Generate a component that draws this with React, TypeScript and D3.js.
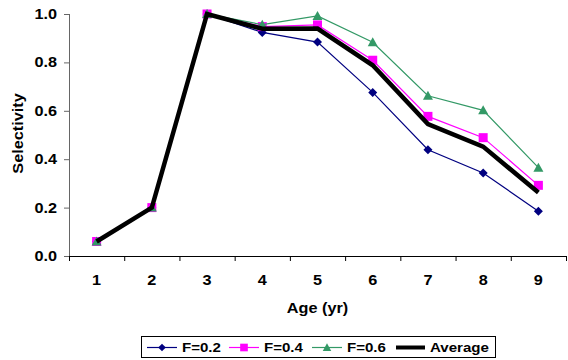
import React from "react";
import * as d3 from "d3";

const ages = ["1", "2", "3", "4", "5", "6", "7", "8", "9"];
const f02 = [0.06, 0.2, 1.0, 0.924, 0.884, 0.676, 0.439, 0.343, 0.185];
const f04 = [0.06, 0.2, 1.0, 0.948, 0.955, 0.809, 0.577, 0.489, 0.292];
const f06 = [0.06, 0.2, 1.0, 0.956, 0.992, 0.883, 0.662, 0.602, 0.365];
const avg = [0.06, 0.2, 1.0, 0.939, 0.94, 0.788, 0.545, 0.452, 0.262];
const yTicks = [0, 0.2, 0.4, 0.6, 0.8, 1.0];

const W = 568, H = 360;
const left = 69, right = 566, top = 14, bottom = 256;
const FONT = "'Liberation Sans', Arial, sans-serif";
const SX = 1.16;

function T(props: { x: number; y: number; size: number; anchor?: string; rotate?: number; children: React.ReactNode }) {
  const { x, y, size, anchor = "start", rotate = 0, children } = props;
  return (
    <text
      transform={`translate(${x},${y}) rotate(${rotate}) scale(${SX},1)`}
      textAnchor={anchor}
      fontSize={size}
      fontWeight="bold"
      fill="#000"
    >
      {children}
    </text>
  );
}

const diamond = "M0,-4.5L4.5,0L0,4.5L-4.5,0Z";
const square = "M-4.5,-4.5H4.5V4.5H-4.5Z";
const tri = "M0,-5L5,4L-5,4Z";

export default function App() {
  const x = d3.scaleBand().domain(ages).range([left, right]);
  const y = d3.scaleLinear().domain([0, 1]).range([bottom, top]);
  const cx = (a: string) => (x(a) as number) + x.bandwidth() / 2;
  const line = d3.line<number>().x((_, i) => cx(ages[i])).y((v) => y(v));

  const series = [
    { name: "F=0.2", data: f02, color: "#000080", sym: diamond },
    { name: "F=0.4", data: f04, color: "#FF00FF", sym: square },
    { name: "F=0.6", data: f06, color: "#339966", sym: tri },
  ];

  const legend = [
    { name: "F=0.2", color: "#000080", w: 1.2, sym: diamond, lx: 147, len: 30 },
    { name: "F=0.4", color: "#FF00FF", w: 1.2, sym: square, lx: 229, len: 30 },
    { name: "F=0.6", color: "#339966", w: 1.2, sym: tri, lx: 312, len: 30 },
    { name: "Average", color: "#000000", w: 4, sym: null, lx: 396, len: 29 },
  ];

  const boundaries = ages.map((a) => x(a) as number).concat([right]);

  return (
    <svg width={W} height={H} style={{ position: "absolute", left: 0, top: 0 }} fontFamily={FONT}>
      <rect width={W} height={H} fill="#fff" />
      <line x1={left + 0.5} x2={left + 0.5} y1={top} y2={bottom} stroke="#666" />
      <line x1={left} x2={right} y1={bottom + 0.5} y2={bottom + 0.5} stroke="#000" />
      {yTicks.map((t) => (
        <g key={t}>
          <line x1={left - 5} x2={left} y1={y(t) + 0.5} y2={y(t) + 0.5} stroke="#666" />
          <T x={57} y={y(t) + 5} size={14} anchor="end">
            {t.toFixed(1)}
          </T>
        </g>
      ))}
      {boundaries.map((b, i) => (
        <line key={i} x1={b + 0.5} x2={b + 0.5} y1={bottom} y2={bottom + 5} stroke="#000" />
      ))}
      {ages.map((a) => (
        <T key={a} x={cx(a)} y={285} size={14} anchor="middle">
          {a}
        </T>
      ))}
      <T x={(left + right) / 2} y={312.5} size={14} anchor="middle">
        Age (yr)
      </T>
      <T x={23} y={133.5} size={14} anchor="middle" rotate={-90}>
        Selectivity
      </T>

      {series.map((s) => (
        <g key={s.name}>
          <path d={line(s.data) as string} fill="none" stroke={s.color} strokeWidth={1.2} />
          {s.data.map((v, i) => (
            <path key={i} d={s.sym} transform={`translate(${cx(ages[i])},${y(v)})`} fill={s.color} />
          ))}
        </g>
      ))}
      <path d={line(avg) as string} fill="none" stroke="#000" strokeWidth={4.5} strokeLinejoin="miter" />

      <rect x={141.5} y={336.5} width={354} height={21} fill="#fff" stroke="#000" />
      {legend.map((l) => (
        <g key={l.name}>
          <line x1={l.lx} x2={l.lx + l.len} y1={347.5} y2={347.5} stroke={l.color} strokeWidth={l.w} />
          {l.sym && (
            <path d={l.sym} transform={`translate(${l.lx + l.len / 2},347.5) scale(0.85)`} fill={l.color} />
          )}
          <T x={l.lx + l.len + 5} y={352.3} size={13}>
            {l.name}
          </T>
        </g>
      ))}
    </svg>
  );
}
